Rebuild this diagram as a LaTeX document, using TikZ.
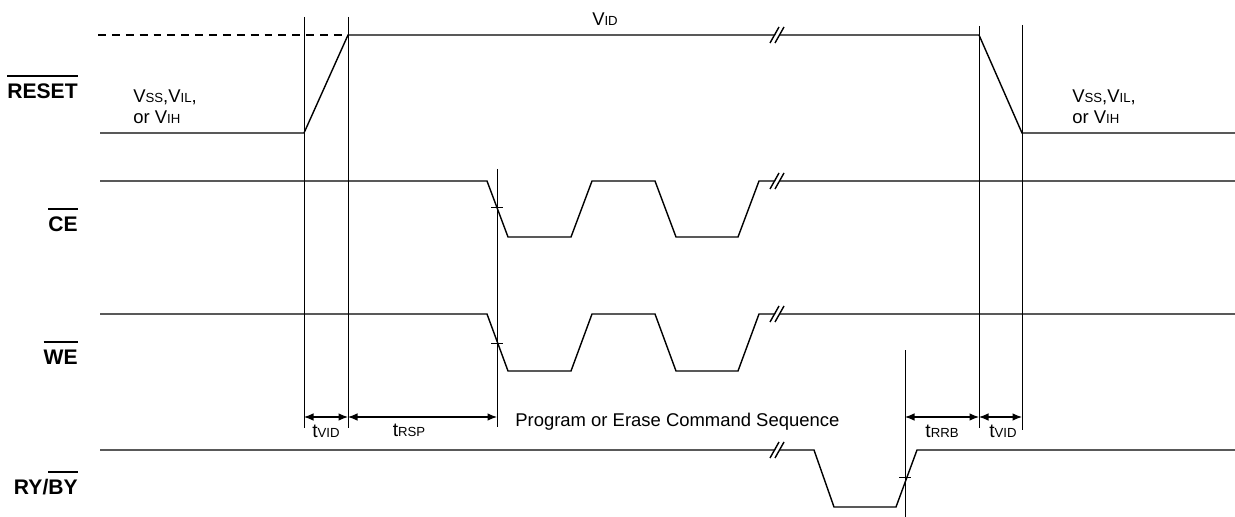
\documentclass[tikz,border=0pt]{standalone}
\usepackage{fontspec}
\setmainfont{Liberation Sans}
\usetikzlibrary{positioning, arrows.meta}

% small letters for the indices
\newcommand{\lo}[1]{{\fontsize{7.5}{8}\selectfont #1}}
% thick bar over active-low names
\newcommand{\ovl}[1]{\leavevmode\vbox{\hrule height 1.1pt \kern 3.8pt \hbox{#1}}}
% break mark: two slashes with a gap in the line
\newcommand{\brk}[2]{%
  \fill[white] (#1-6,#2+8) -- (#1+3,#2-8) -- (#1+7,#2-8) -- (#1-2,#2+8) -- cycle;
  \draw[wave] (#1-7,#2+8) -- (#1+2,#2-8) (#1-2,#2+8) -- (#1+7,#2-8);}

\begin{document}
\begin{tikzpicture}[x=0.02cm, y=-0.02cm,
  wave/.style={line width=0.8pt, line join=miter},
  guide/.style={line width=0.45pt},
  dim/.style={line width=0.6pt, {Latex[length=1.9mm, width=1.5mm]}-{Latex[length=1.9mm, width=1.5mm]}},
  sig/.style={font=\bfseries\fontsize{12}{13}\selectfont, anchor=east, inner sep=0pt},
  lvl/.style={font=\fontsize{10.5}{12}\selectfont, align=left, anchor=west, inner sep=0pt},
  tm/.style={font=\fontsize{11}{12}\selectfont, inner sep=0pt}
]
  \useasboundingbox (0,0) rectangle (1235,517);

  % signal names
  \node[sig] (reset) at (78,87) {\ovl{RESET}};
  \node[sig] (ce) at (78,220) {\ovl{CE}};
  \node[sig] (we) at (78,353) {\ovl{WE}};
  \node[sig] (ryby) at (78,483) {RY/\ovl{BY}};

  % levels
  \node[lvl] (lvlL) at (133,107) {V\lo{SS},V\lo{IL},\\or V\lo{IH}};
  \node[lvl] (lvlR) at (1072,107) {V\lo{SS},V\lo{IL},\\or V\lo{IH}};
  \node[lvl, anchor=center] (vid) at (605,19) {V\lo{ID}};

  % RESET#
  \draw[line width=0.8pt, dash pattern=on 4.5pt off 3.4pt] (98,35) -- (348,35);
  \draw[wave] (100,133) -- (304,133) -- (348,35) -- (979,35) -- (1022,133) -- (1235,133);
  \brk{777}{35}

  % CE#
  \draw[wave] (100,181) -- (487,181) -- (508,237) -- (571,237) -- (592,181) -- (655,181)
    -- (676,237) -- (738,237) -- (759,181) -- (1235,181);
  \brk{777}{181}

  % WE#
  \draw[wave] (100,314) -- (487,314) -- (508,371) -- (571,371) -- (592,314) -- (655,314)
    -- (676,371) -- (738,371) -- (759,314) -- (1235,314);
  \brk{777}{314}

  % RY/BY#
  \draw[wave] (100,450) -- (814,450) -- (834,507) -- (896,507) -- (917,450) -- (1235,450);
  \brk{777}{450}

  % timing guides
  \coordinate (g1) at (304,417);
  \coordinate (g2) at (348,417);
  \coordinate (g3) at (497,417);
  \coordinate (g4) at (905,417);
  \coordinate (g5) at (979,417);
  \coordinate (g6) at (1022,417);
  \draw[guide] (304,17) -- (304,428);
  \draw[guide] (348,17) -- (348,428);
  \draw[guide] (497,169) -- (497,427);
  \draw[guide] (905,350) -- (905,517);
  \draw[guide] (979,26) -- (979,428);
  \draw[guide] (1022,25) -- (1022,430);
  \draw[guide] (491,207) -- (503,207);
  \draw[guide] (491,343) -- (503,343);
  \draw[guide] (899,477) -- (911,477);

  \draw[dim] (g1) -- (g2);
  \draw[dim] (g2) -- (g3);
  \draw[dim] (g4) -- (g5);
  \draw[dim] (g5) -- (g6);

  \node[tm] (tvid1) at (326,431) {t\lo{VID}};
  \node[tm] (trsp) at (409,430) {t\lo{RSP}};
  \node[tm] (trrb) at (942,431) {t\lo{RRB}};
  \node[tm] (tvid2) at (1003,431) {t\lo{VID}};
  \node[lvl] (seq) at (515,422) {Program or Erase Command Sequence};
\end{tikzpicture}
\end{document}
